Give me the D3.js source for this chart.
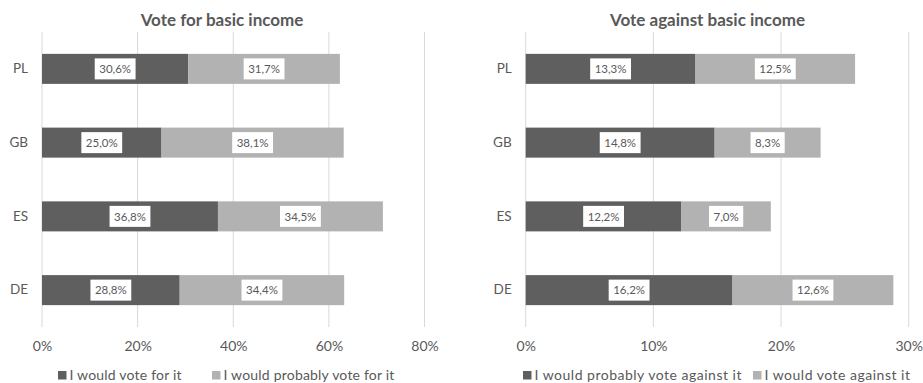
<!DOCTYPE html>
<html><head><meta charset="utf-8">
<script src="https://cdn.jsdelivr.net/npm/d3@7"></script>
<style>
body{margin:0;background:#fff;}
svg{display:block;font-family:Lato,"Open Sans",sans-serif;}
</style></head>
<body><svg id="c" width="923" height="383"></svg>
<script>
const categories = ["PL","GB","ES","DE"];
const forVote = [30.6, 25.0, 36.8, 28.8];
const forProbably = [31.7, 38.1, 34.5, 34.4];
const againstProbably = [13.3, 14.8, 12.2, 16.2];
const againstVote = [12.5, 8.3, 7.0, 12.6];
const leftTicks = [0, 20, 40, 60, 80];
const rightTicks = [0, 10, 20, 30];
const leftTitle = "Vote for basic income";
const rightTitle = "Vote against basic income";
const leftLegend = ["I would vote for it", "I would probably vote for it"];
const rightLegend = ["I would probably vote against it", "I would vote against it"];

const DARK = "#5f5f5f", LIGHT = "#b2b2b2", TEXT = "#595959", GRID = "#d9d9d9";
const svg = d3.select("#c");
const fmt = v => v.toFixed(1).replace(".", ",") + "%";

function panel(opt){
  const g = svg.append("g");
  const x = d3.scaleLinear().domain([0, opt.max]).range(opt.xr);
  const y = d3.scaleBand().domain(categories).range([32, 327]).paddingInner(0.593).paddingOuter(0.2965);

  g.selectAll("line.grid").data(opt.ticks).join("line")
    .attr("x1", d => x(d)).attr("x2", d => x(d))
    .attr("y1", 32).attr("y2", 327)
    .attr("stroke", GRID).attr("stroke-width", 1);

  const ax = g.append("g").attr("transform", "translate(0,327)")
    .call(d3.axisBottom(x).tickValues(opt.ticks).tickSize(0).tickPadding(14).tickFormat(d => d + "%"));
  ax.select(".domain").remove();
  ax.selectAll("text").attr("fill", TEXT).style("font-size", "14px").style("font-family", "Lato");

  const ay = g.append("g").attr("transform", `translate(${opt.xr[0] - 14},0)`)
    .call(d3.axisLeft(y).tickSize(0).tickPadding(0));
  ay.select(".domain").remove();
  ay.selectAll("text").attr("fill", TEXT).style("font-size", "13.5px").style("font-family", "Lato");

  const series = [opt.s1, opt.s2];
  const colors = [DARK, LIGHT];
  categories.forEach((c, i) => {
    let acc = 0;
    series.forEach((s, k) => {
      const v = s[i];
      const x0 = x(acc), x1 = x(acc + v);
      g.append("rect").attr("x", x0).attr("y", y(c)).attr("width", x1 - x0).attr("height", y.bandwidth())
        .attr("fill", colors[k]);
      const cx = (x0 + x1) / 2, cy = y(c) + y.bandwidth() / 2;
      const t = g.append("text").attr("x", cx).attr("y", cy).attr("dy", "0.36em")
        .attr("text-anchor", "middle").attr("fill", TEXT).style("font-size", "11.5px").text(fmt(v));
      const bb = t.node().getBBox();
      g.insert("rect", () => t.node()).attr("x", cx - bb.width / 2 - 4.5).attr("y", cy - 10.5)
        .attr("width", bb.width + 9).attr("height", 21).attr("fill", "#fff");
      acc += v;
    });
  });

  g.append("text").attr("x", opt.titleX).attr("y", 26).attr("text-anchor", "middle")
    .attr("fill", TEXT).style("font-size", "17px").style("font-weight", "bold").text(opt.title);

  opt.legend.forEach((lab, k) => {
    g.append("rect").attr("x", opt.legX[k]).attr("y", 371).attr("width", 8.5).attr("height", 8.5).attr("fill", colors[k]);
    g.append("text").attr("x", opt.legX[k] + 11.5).attr("y", 379.5).attr("fill", TEXT)
      .style("font-size", "14px").style("letter-spacing", opt.ls).text(lab);
  });
}

panel({max: 80, xr: [42, 424.5], ticks: leftTicks, s1: forVote, s2: forProbably,
  title: leftTitle, titleX: 222, legend: leftLegend, legX: [58, 212], ls: "0.2px"});
panel({max: 30, xr: [525.7, 908.7], ticks: rightTicks, s1: againstProbably, s2: againstVote,
  title: rightTitle, titleX: 707.5, legend: rightLegend, legX: [523, 753], ls: "0.5px"});
</script></body></html>
